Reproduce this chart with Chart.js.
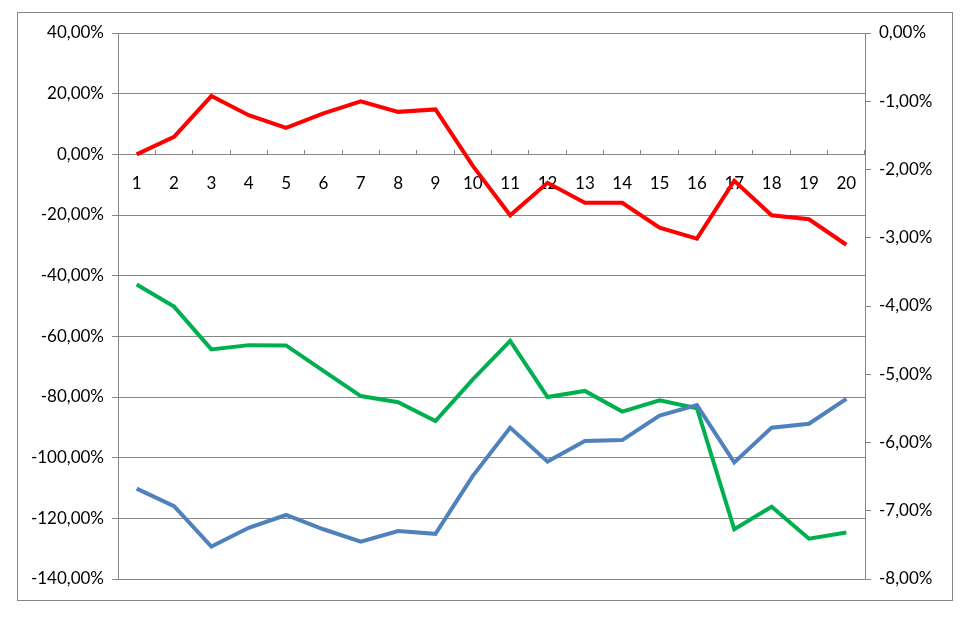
<!DOCTYPE html>
<html>
<head>
<meta charset="utf-8">
<script src="https://cdn.jsdelivr.net/npm/chart.js@4/dist/chart.umd.min.js"></script>
<style>
  html, body { margin: 0; padding: 0; background: #fff; }
  #wrap { width: 972px; height: 617px; }
</style>
</head>
<body>
<div id="wrap"><canvas id="chart" width="972" height="617"></canvas></div>
<script>
// Values (percent)
const categories = ['1','2','3','4','5','6','7','8','9','10','11','12','13','14','15','16','17','18','19','20'];
const redSeries = [0, 5.8, 19.2, 12.9, 8.7, 13.5, 17.5, 14.0, 14.8, -3.8, -20.1, -9.4, -16.0, -16.0, -24.2, -27.8, -8.7, -20.1, -21.4, -29.8];
const greenSeries = [-42.9, -50.2, -64.3, -62.9, -63.0, -71.4, -79.7, -81.7, -87.9, -74.2, -61.5, -80.0, -78.0, -84.8, -81.1, -83.7, -123.6, -116.2, -126.7, -124.7];
const blueSeries = [-110.2, -116.0, -129.3, -123.1, -118.9, -123.6, -127.7, -124.2, -125.1, -106.0, -90.1, -101.3, -94.5, -94.2, -86.1, -82.7, -101.6, -90.1, -88.8, -80.6];
const leftRange = { min: -140, max: 40, step: 20 };
const rightRange = { min: -8, max: 0, step: 1 };

const fmt = v => v.toFixed(2).replace('.', ',') + '%';
const axisGray = '#868686';
const font = { family: 'Lato, "Liberation Sans", sans-serif', size: 17 };

// outer frame of the chart object
const framePlugin = {
    id: 'frame',
    beforeDraw(chart) {
        const ctx = chart.ctx;
        ctx.save();
        ctx.fillStyle = '#fff';
        ctx.fillRect(0, 0, chart.width, chart.height);
        ctx.strokeStyle = axisGray;
        ctx.lineWidth = 1;
        ctx.strokeRect(17.5, 12.5, 935, 588);
        ctx.restore();
    }
};

new Chart(document.getElementById('chart').getContext('2d'), {
    type: 'line',
    data: {
        labels: categories,
        datasets: [
            { label: 'Serie 1', data: blueSeries, borderColor: '#4F81BD', yAxisID: 'y' },
            { label: 'Serie 2', data: greenSeries, borderColor: '#00B050', yAxisID: 'y' },
            { label: 'Serie 3', data: redSeries, borderColor: '#FF0000', yAxisID: 'y' }
        ]
    },
    options: {
        responsive: false,
        animation: false,
        layout: { padding: { top: 33, bottom: 38, left: 0, right: 0 } },
        elements: {
            line: { borderWidth: 4, tension: 0, borderCapStyle: 'butt', borderJoinStyle: 'miter' },
            point: { radius: 0, hoverRadius: 0 }
        },
        plugins: { legend: { display: false }, tooltip: { enabled: false } },
        scales: {
            x: {
                position: { y: 0 },
                offset: true,
                grid: { offset: true, drawOnChartArea: false, drawTicks: true, tickLength: -5, color: axisGray },
                border: { color: axisGray },
                ticks: { color: '#000', font: font, padding: 24, maxRotation: 0, autoSkip: false }
            },
            y: {
                position: 'left',
                min: leftRange.min,
                max: leftRange.max,
                afterFit: s => { s.width = 118; },
                grid: { color: axisGray, tickLength: 6 },
                border: { color: axisGray },
                ticks: { stepSize: leftRange.step, color: '#000', font: font, padding: 8, callback: v => fmt(v) }
            },
            y1: {
                position: 'right',
                min: rightRange.min,
                max: rightRange.max,
                afterFit: s => { s.width = 107; },
                grid: { drawOnChartArea: false, color: axisGray, tickLength: 6 },
                border: { color: axisGray },
                ticks: { stepSize: rightRange.step, color: '#000', font: font, padding: 8, callback: v => fmt(v) }
            }
        }
    },
    plugins: [framePlugin]
});
</script>
</body>
</html>
